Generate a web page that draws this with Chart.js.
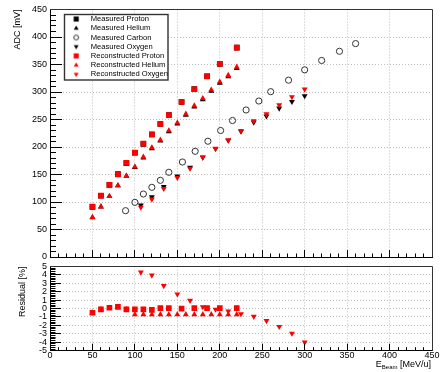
<!DOCTYPE html>
<html>
<head>
<meta charset="utf-8">
<script src="https://cdn.jsdelivr.net/npm/chart.js@4.4.1/dist/chart.umd.min.js"></script>
<style>
html,body{margin:0;padding:0;background:#fff;}
#wrap{position:relative;width:441px;height:372px;overflow:hidden;font-family:"Liberation Sans",Arial,Helvetica,sans-serif;}
#cTop{position:absolute;left:0;top:0;}
#cBot{position:absolute;left:0;top:258px;}
#xtitle{position:absolute;right:10px;top:359px;font-size:9px;line-height:10px;color:#000;white-space:nowrap;}
#xtitle sub{font-size:6px;vertical-align:-2px;line-height:0;}
</style>
</head>
<body>
<div id="wrap">
  <canvas id="cTop" width="441" height="266" style="width:441px;height:266px"></canvas>
  <canvas id="cBot" width="441" height="114" style="width:441px;height:114px"></canvas>
  <div id="xtitle">E<sub>Beam</sub> [MeV/u]</div>
</div>
<script>
// ---------------- data ----------------
const protonEnergy    = [50,60,70,80,90,100,110,120,130,140,155,170,185,200,220];
const protonMeasured  = [91.0,111.4,131.1,150.6,170.8,189.5,205.8,222.7,241.9,258.1,281.8,305.2,328.7,351.2,380.8];
const protonRecon     = [91.5,111.5,131.0,150.3,171.0,189.7,206.0,223.0,241.8,258.0,281.8,305.0,328.5,351.0,380.6];
const protonResidual  = [-0.5,-0.1,0.1,0.2,-0.1,-0.1,-0.1,-0.15,0.05,0.05,0.0,0.05,0.05,0.05,0.05];

const heliumEnergy    = [50,60,70,80,90,100,110,120,130,140,150,160,170,180,190,200,210,220];
const heliumMeasured  = [71.8,91.4,110.4,129.9,147.3,162.9,180.5,197.4,211.2,228.1,242.3,258.2,273.1,286.5,301.9,316.3,328.2,343.1];
const heliumRecon     = [72.2,91.5,110.3,129.7,147.5,164.0,181.8,198.8,212.7,229.7,244.0,260.0,275.0,288.5,304.0,318.5,330.5,345.5];
const heliumResidual  = [-0.5,-0.1,0.05,0.15,-0.1,-0.7,-0.7,-0.7,-0.7,-0.7,-0.7,-0.7,-0.7,-0.7,-0.7,-0.7,-0.7,-0.7];

const carbonEnergy    = [89,100,110,120,130,140,156,171,186,201,215,231,246,260,281,300,320,341,360];
const carbonMeasured  = [84.2,99.4,114.5,126.7,139.4,154.0,172.7,192.2,210.5,230.0,248.2,267.3,283.6,300.6,321.5,340.3,357.3,374.0,388.0];

const oxygenEnergy    = [107,120,134,150,165,180,195,210,225,240,255,270,285,300];
const oxygenMeasured  = [94.2,109.0,127.6,146.7,162.7,181.4,197.1,212.1,228.3,245.0,256.2,270.5,282.4,292.8];
const oxygenRecon     = [90.3,104.9,124.2,144.2,161.2,181.0,197.3,212.7,229.7,247.3,260.0,276.4,291.0,305.0];
const oxygenResidual  = [4.3,3.95,2.7,1.7,0.95,0.2,-0.1,-0.3,-0.63,-0.95,-1.45,-2.15,-2.95,-4.0];

const energyTicks   = [0,50,100,150,200,250,300,350,400,450];
const adcTicks      = [0,50,100,150,200,250,300,350,400,450];
const residualTicks = [-5,-4,-3,-2,-1,0,1,2,3,4,5];

// ---------------- helpers ----------------
const FONT = "'Liberation Sans', Arial, Helvetica, sans-serif";
Chart.defaults.font.family = FONT;
Chart.defaults.color = '#000';
Chart.defaults.animation = false;

function pts(xs, ys){ return xs.map((x,i)=>({x:x, y:ys[i]})); }
function alignPx(p){ return Math.round(p - 0.5) + 0.5; }
function setTicks(values){ return s => { s.ticks = values.map(v => ({value:v})); }; }

const RED = '#ff0000', BLK = '#000000';
function markerDs(label, xs, ys, style, color, order, extra){
  const ds = {
    label: label, data: pts(xs, ys), order: order, showLine: false,
    pointStyle: style.shape, pointRotation: style.rot || 0, pointRadius: style.r,
    pointBackgroundColor: color, pointBorderColor: color, pointBorderWidth: 0,
    legendR: style.lr
  };
  return Object.assign(ds, extra || {});
}
const SQ  = {shape:'rect', r:4.0, lr:3.6};
const UP  = {shape:'triangle', r:3.4, lr:2.8};
const DN  = {shape:'triangle', r:3.4, rot:180, lr:2.8};
const CIR = {shape:'circle', r:3.1, lr:2.4};

function legendMarker(ds){
  const c = document.createElement('canvas');
  c.width = 24; c.height = 10;
  const g = c.getContext('2d');
  g.fillStyle = ds.pointBackgroundColor;
  g.strokeStyle = ds.pointBorderColor;
  g.lineWidth = ds.pointBorderWidth || 0;
  Chart.helpers.drawPoint(g, {pointStyle: ds.pointStyle, radius: ds.legendR,
    rotation: ds.pointRotation || 0, borderWidth: ds.pointBorderWidth || 0}, 5.1, 5);
  return c;
}

// ROOT-like inner ticks and frame
const innerTicks = {
  id: 'innerTicks',
  afterDatasetsDraw(chart, args, o){
    const {ctx, chartArea:a, scales:{x, y}} = chart;
    ctx.save();
    ctx.lineWidth = 1; ctx.strokeStyle = '#000';
    ctx.beginPath();
    const nx = Math.round((x.max - x.min) / o.xMinor), kx = Math.round(o.xMajor / o.xMinor);
    for (let i = 0; i <= nx; i++){
      const px = alignPx(x.getPixelForValue(x.min + i * o.xMinor));
      ctx.moveTo(px, a.bottom); ctx.lineTo(px, a.bottom - (i % kx === 0 ? o.xMajorLen : o.xMinorLen));
    }
    const ny = Math.round((y.max - y.min) / o.yMinor), ky = Math.round(o.yMajor / o.yMinor);
    for (let i = 0; i <= ny; i++){
      const py = alignPx(y.getPixelForValue(y.min + i * o.yMinor));
      ctx.moveTo(a.left, py); ctx.lineTo(a.left + (i % ky === 0 ? o.yMajorLen : o.yMinorLen), py);
    }
    ctx.stroke();
    ctx.strokeStyle = '#333';
    ctx.beginPath();
    const t = alignPx(a.top), r = alignPx(a.right);
    ctx.moveTo(a.left, t); ctx.lineTo(r, t); ctx.lineTo(r, a.bottom);
    ctx.stroke();
    ctx.restore();
  }
};

// legend framed box placed inside the plot (ROOT TLegend look)
const legendBox = {
  id: 'legendBox',
  afterLayout(chart){
    const lg = chart.legend;
    if (!lg || lg._wrapped) return;
    lg.draw = function(){
      const ctx = chart.ctx;
      ctx.save();
      ctx.fillStyle = '#fff';
      ctx.fillRect(64.5, 14.5, 103.5, 65.5);
      ctx.strokeStyle = '#333'; ctx.lineWidth = 1.4;
      ctx.strokeRect(64.5, 14.5, 103.5, 65.5);
      ctx.restore();
      this.left = 77.7; this.top = 13.6; this.right = 300; this.bottom = 140;
      this.width = this.right - this.left; this.height = this.bottom - this.top;
      this._draw();
    };
    lg._wrapped = true;
  }
};

const gridColor = (maxV, minV) => c => (c.tick && (c.tick.value === maxV || c.tick.value === minV)) ? 'rgba(0,0,0,0)' : '#bdbdbd';

// ---------------- top chart ----------------
new Chart(document.getElementById('cTop'), {
  type: 'scatter',
  data: { datasets: [
    markerDs('Measured Proton',  protonEnergy, protonMeasured, SQ, BLK, 1),
    markerDs('Measured Helium',  heliumEnergy, heliumMeasured, UP, BLK, 1),
    markerDs('Measured Carbon',  carbonEnergy, carbonMeasured, CIR, 'rgba(0,0,0,0)', 1, {pointBorderColor:'#333', pointBorderWidth:1}),
    markerDs('Measured Oxygen',  oxygenEnergy, oxygenMeasured, DN, BLK, 1),
    markerDs('Reconstructed Proton', protonEnergy, protonRecon, SQ, RED, 0),
    markerDs('Reconstructed Helium', heliumEnergy, heliumRecon, UP, RED, 0),
    markerDs('Reconstructed Oxygen', oxygenEnergy, oxygenRecon, DN, RED, 0)
  ]},
  options: {
    responsive: false, devicePixelRatio: 1, animation: false, events: [],
    layout: { padding: {top: 9.5, right: 9, left: 0, bottom: 0} },
    scales: {
      x: { type:'linear', min:0, max:450, afterBuildTicks: setTicks(energyTicks),
           afterFit: s => { s.height = 9; },
           ticks: { display:false },
           grid: { color: gridColor(450, 0), drawTicks:false, lineWidth:1 },
           border: { display:true, color:'#000', width:1, dash:[1,2] } },
      y: { type:'linear', min:0, max:450, afterBuildTicks: setTicks(adcTicks),
           afterFit: s => { s.width = 50; },
           ticks: { font:{size:9, family:FONT}, padding:3, color:'#000' },
           grid: { color: gridColor(450, 0), drawTicks:false, lineWidth:1 },
           border: { display:true, color:'#000', width:1, dash:[1,2] },
           title: { display:true, text:'ADC [mV]', align:'end', font:{size:9, family:FONT}, padding:{top:12, bottom:0}, color:'#000' } }
    },
    plugins: {
      tooltip: { enabled:false },
      legend: {
        display: true, position: 'chartArea', align: 'start',
        labels: {
          usePointStyle: true, padding: 1.62, color:'#000',
          font: { size: 7.6, family: FONT },
          generateLabels(chart){
            return chart.data.datasets.map((ds, i) => ({
              text: ds.label, datasetIndex: i, hidden: false,
              pointStyle: legendMarker(ds), fontColor: '#000',
              fillStyle: 'rgba(0,0,0,0)', strokeStyle: 'rgba(0,0,0,0)', lineWidth: 0
            }));
          }
        }
      },
      innerTicks: { xMinor:10, xMajor:50, xMajorLen:7, xMinorLen:3.5, yMinor:10, yMajor:50, yMajorLen:12, yMinorLen:6 }
    }
  },
  plugins: [innerTicks, legendBox]
});

// ---------------- residual chart ----------------
new Chart(document.getElementById('cBot'), {
  type: 'scatter',
  data: { datasets: [
    markerDs('Proton residual', protonEnergy, protonResidual, SQ, RED, 2),
    markerDs('Helium residual', heliumEnergy, heliumResidual, UP, RED, 1),
    markerDs('Oxygen residual', oxygenEnergy, oxygenResidual, DN, RED, 0)
  ]},
  options: {
    responsive: false, devicePixelRatio: 1, animation: false, events: [],
    layout: { padding: {top: 7.7, right: 9, left: 0, bottom: 0} },
    scales: {
      x: { type:'linear', min:0, max:450, afterBuildTicks: setTicks(energyTicks),
           afterFit: s => { s.height = 21.3; },
           ticks: { font:{size:9, family:FONT, lineHeight:1}, padding:0, color:'#000', maxRotation:0, autoSkip:false },
           grid: { color: gridColor(450, 0), drawTicks:false, lineWidth:1 },
           border: { display:true, color:'#000', width:1, dash:[1,2] } },
      y: { type:'linear', min:-5, max:5, afterBuildTicks: setTicks(residualTicks),
           afterFit: s => { s.width = 50; },
           ticks: { font:{size:9, family:FONT}, padding:3, color:'#000', autoSkip:false },
           grid: { color: gridColor(5, -5), drawTicks:false, lineWidth:1 },
           border: { display:true, color:'#000', width:1, dash:[1,2] },
           title: { display:true, text:'Residual [%]', align:'end', font:{size:9, family:FONT}, padding:{top:17.6, bottom:0}, color:'#000' } }
    },
    plugins: {
      tooltip: { enabled:false },
      legend: { display:false },
      innerTicks: { xMinor:10, xMajor:50, xMajorLen:7, xMinorLen:3.5, yMinor:0.2, yMajor:1, yMajorLen:11, yMinorLen:5.5 }
    }
  },
  plugins: [innerTicks]
});
</script>
</body>
</html>
